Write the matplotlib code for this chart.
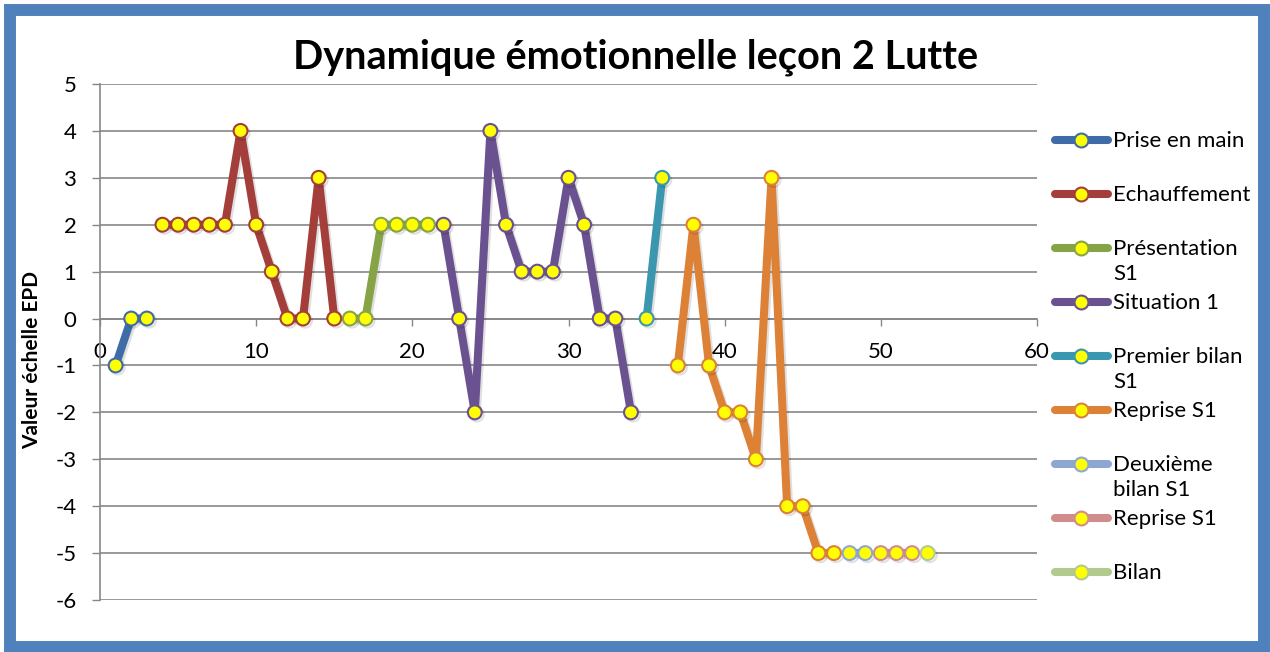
import matplotlib
matplotlib.use("Agg")
import matplotlib.pyplot as plt
import matplotlib.patheffects as pe
from matplotlib.lines import Line2D
from matplotlib.patches import Rectangle

plt.rcParams['font.family'] = ['Lato', 'DejaVu Sans']
plt.rcParams['axes.unicode_minus'] = False

# series data (x = rang de l'observation, y = valeur EPD)
x_prise = [1, 2, 3]
y_prise = [-1, 0, 0]
x_echauf = [4, 5, 6, 7, 8, 9, 10, 11, 12, 13, 14, 15]
y_echauf = [2, 2, 2, 2, 2, 4, 2, 1, 0, 0, 3, 0]
x_pres = [16, 17, 18, 19, 20, 21]
y_pres = [0, 0, 2, 2, 2, 2]
x_sit1 = [22, 23, 24, 25, 26, 27, 28, 29, 30, 31, 32, 33, 34]
y_sit1 = [2, 0, -2, 4, 2, 1, 1, 1, 3, 2, 0, 0, -2]
x_bilan1 = [35, 36]
y_bilan1 = [0, 3]
x_rep1 = [37, 38, 39, 40, 41, 42, 43, 44, 45, 46, 47]
y_rep1 = [-1, 2, -1, -2, -2, -3, 3, -4, -4, -5, -5]
x_bilan2 = [48, 49]
y_bilan2 = [-5, -5]
x_rep2 = [50, 51, 52]
y_rep2 = [-5, -5, -5]
x_bilan = [53]
y_bilan = [-5]

labels = ['Prise en main', 'Echauffement', 'Présentation\nS1', 'Situation 1',
          'Premier bilan\nS1', 'Reprise S1', 'Deuxième\nbilan S1', 'Reprise S1', 'Bilan']
colors = ['#3F6CA6', '#A43E3B', '#86A445', '#6A5190', '#3B97B0',
          '#DD8137', '#8EA7D1', '#D08D8C', '#B3CA8F']
series = [(x_prise, y_prise), (x_echauf, y_echauf), (x_pres, y_pres),
          (x_sit1, y_sit1), (x_bilan1, y_bilan1), (x_rep1, y_rep1),
          (x_bilan2, y_bilan2), (x_rep2, y_rep2), (x_bilan, y_bilan)]

W, H = 1270, 652
fig = plt.figure(figsize=(W / 100, H / 100), dpi=100)
ax = fig.add_axes([100 / W, 1 - 600 / H, 937 / W, 516 / H])

shadow = [pe.SimpleLineShadow(offset=(1.5, -1.5), alpha=0.12), pe.Normal()]
for (xs, ys), c in zip(series, colors):
    ax.plot(xs, ys, color=c, lw=5.8, marker='o', markersize=10,
            markerfacecolor='#FFFF00', markeredgecolor=c, markeredgewidth=1.5,
            solid_joinstyle='round', solid_capstyle='round',
            path_effects=shadow, zorder=3)

gray = '#878787'
ax.set_xlim(0, 60)
ax.set_ylim(-6, 5)
ax.set_xticks(range(0, 61, 10))
ax.set_yticks(range(-6, 6))
ax.yaxis.grid(True, color=gray, lw=1.2)
ax.set_axisbelow(True)
for s in ['top', 'right']:
    ax.spines[s].set_visible(False)
ax.spines['bottom'].set_position(('data', 0))
ax.spines['bottom'].set_color(gray)
ax.spines['left'].set_color(gray)
ax.spines['bottom'].set_linewidth(1.2)
ax.spines['left'].set_linewidth(1.2)
ax.tick_params(axis='x', direction='out', length=5, color=gray, width=1,
               labelsize=16, pad=12)
ax.tick_params(axis='y', direction='out', length=6, color=gray, width=1,
               labelsize=16, pad=11)

fig.text(636 / W, 1 - 57 / H, 'Dynamique émotionnelle leçon 2 Lutte',
         ha='center', va='center', fontsize=28.5, fontweight='bold')
fig.text(32 / W, 1 - 360 / H, 'Valeur échelle EPD', rotation=90,
         ha='center', va='center', fontsize=15, fontweight='bold')

# legend drawn by hand so that wrapped labels hang below their handle
for i, (lab, c) in enumerate(zip(labels, colors)):
    yy = 1 - (140 + 54 * i) / H
    fig.add_artist(Line2D([1055 / W, 1108 / W], [yy, yy], transform=fig.transFigure,
                          color=c, lw=5.8, solid_capstyle='round'))
    fig.add_artist(Line2D([1081 / W], [yy], transform=fig.transFigure,
                          marker='o', markersize=10, markerfacecolor='#FFFF00',
                          markeredgecolor=c, markeredgewidth=1.5))
    fig.text(1113 / W, yy + 9 / H, lab, ha='left', va='top', fontsize=16,
             linespacing=1.3)

fig.add_artist(Rectangle((10 / W, 1 - 647 / H), 1254 / W, 637 / H,
                         transform=fig.transFigure, fill=False,
                         edgecolor='#4F81BD', lw=8.6))

fig.savefig('out.png', dpi=100)
